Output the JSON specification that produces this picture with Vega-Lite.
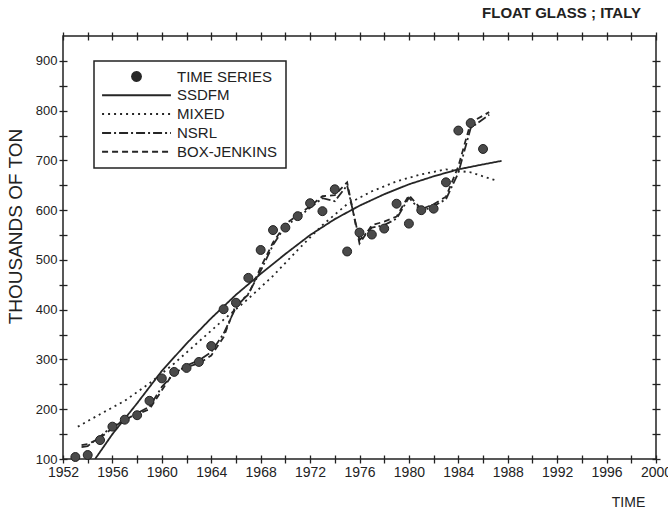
{
  "$schema": "https://vega.github.io/schema/vega-lite/v6.json",
  "width": 593,
  "height": 423,
  "autosize": "none",
  "padding": {"left": 63, "top": 36, "right": 12, "bottom": 51},
  "background": "white",
  "title": {
    "text": "FLOAT GLASS ; ITALY",
    "anchor": "end",
    "frame": "group",
    "dx": -15,
    "offset": 10,
    "font": "Liberation Sans",
    "fontSize": 15,
    "fontWeight": "bold",
    "color": "#222"
  },
  "config": {
    "view": {"stroke": "#222", "strokeWidth": 1.5},
    "axis": {
      "domain": false,
      "grid": false,
      "offset": -4,
      "tickSize": 8,
      "tickColor": "#222",
      "tickWidth": 1.3,
      "labelFont": "Liberation Sans",
      "labelColor": "#222",
      "labelFlush": false,
      "labelOverlap": false,
      "titleFont": "Liberation Sans",
      "titleColor": "#222",
      "titleFontWeight": "normal"
    },
    "legend": {
      "orient": "none",
      "legendX": 31,
      "legendY": 25,
      "strokeColor": "#222",
      "strokeWidth": 1.5,
      "padding": 8,
      "rowPadding": 2.8,
      "symbolSize": 80,
      "symbolOffset": 27,
      "symbolStrokeWidth": 2,
      "labelOffset": 33,
      "labelFont": "Liberation Sans",
      "labelFontSize": 15,
      "labelColor": "#222"
    }
  },
  "datasets": {
    "observed": [
      {"year": 1953, "value": 104, "model": "TIME SERIES"},
      {"year": 1954, "value": 108, "model": "TIME SERIES"},
      {"year": 1955, "value": 138, "model": "TIME SERIES"},
      {"year": 1956, "value": 165, "model": "TIME SERIES"},
      {"year": 1957, "value": 179, "model": "TIME SERIES"},
      {"year": 1958, "value": 188, "model": "TIME SERIES"},
      {"year": 1959, "value": 217, "model": "TIME SERIES"},
      {"year": 1960, "value": 262, "model": "TIME SERIES"},
      {"year": 1961, "value": 275, "model": "TIME SERIES"},
      {"year": 1962, "value": 283, "model": "TIME SERIES"},
      {"year": 1963, "value": 295, "model": "TIME SERIES"},
      {"year": 1964, "value": 327, "model": "TIME SERIES"},
      {"year": 1965, "value": 401, "model": "TIME SERIES"},
      {"year": 1966, "value": 414, "model": "TIME SERIES"},
      {"year": 1967, "value": 464, "model": "TIME SERIES"},
      {"year": 1968, "value": 520, "model": "TIME SERIES"},
      {"year": 1969, "value": 560, "model": "TIME SERIES"},
      {"year": 1970, "value": 565, "model": "TIME SERIES"},
      {"year": 1971, "value": 588, "model": "TIME SERIES"},
      {"year": 1972, "value": 614, "model": "TIME SERIES"},
      {"year": 1973, "value": 598, "model": "TIME SERIES"},
      {"year": 1974, "value": 642, "model": "TIME SERIES"},
      {"year": 1975, "value": 517, "model": "TIME SERIES"},
      {"year": 1976, "value": 555, "model": "TIME SERIES"},
      {"year": 1977, "value": 551, "model": "TIME SERIES"},
      {"year": 1978, "value": 563, "model": "TIME SERIES"},
      {"year": 1979, "value": 613, "model": "TIME SERIES"},
      {"year": 1980, "value": 573, "model": "TIME SERIES"},
      {"year": 1981, "value": 600, "model": "TIME SERIES"},
      {"year": 1982, "value": 603, "model": "TIME SERIES"},
      {"year": 1983, "value": 656, "model": "TIME SERIES"},
      {"year": 1984, "value": 760, "model": "TIME SERIES"},
      {"year": 1985, "value": 775, "model": "TIME SERIES"},
      {"year": 1986, "value": 723, "model": "TIME SERIES"}
    ],
    "fitted": [
      {"year": 1954.6, "value": 100, "model": "SSDFM"},
      {"year": 1956, "value": 150, "model": "SSDFM"},
      {"year": 1958, "value": 212, "model": "SSDFM"},
      {"year": 1960, "value": 277, "model": "SSDFM"},
      {"year": 1962, "value": 332, "model": "SSDFM"},
      {"year": 1964, "value": 383, "model": "SSDFM"},
      {"year": 1966, "value": 430, "model": "SSDFM"},
      {"year": 1968, "value": 472, "model": "SSDFM"},
      {"year": 1970, "value": 512, "model": "SSDFM"},
      {"year": 1972, "value": 550, "model": "SSDFM"},
      {"year": 1974, "value": 582, "model": "SSDFM"},
      {"year": 1976, "value": 609, "model": "SSDFM"},
      {"year": 1978, "value": 632, "model": "SSDFM"},
      {"year": 1980, "value": 652, "model": "SSDFM"},
      {"year": 1982, "value": 668, "model": "SSDFM"},
      {"year": 1984, "value": 682, "model": "SSDFM"},
      {"year": 1986, "value": 692, "model": "SSDFM"},
      {"year": 1987.5, "value": 699, "model": "SSDFM"},

      {"year": 1953.2, "value": 165, "model": "MIXED"},
      {"year": 1955, "value": 190, "model": "MIXED"},
      {"year": 1957, "value": 217, "model": "MIXED"},
      {"year": 1959, "value": 252, "model": "MIXED"},
      {"year": 1961, "value": 292, "model": "MIXED"},
      {"year": 1963, "value": 336, "model": "MIXED"},
      {"year": 1965, "value": 380, "model": "MIXED"},
      {"year": 1967, "value": 422, "model": "MIXED"},
      {"year": 1969, "value": 468, "model": "MIXED"},
      {"year": 1971, "value": 520, "model": "MIXED"},
      {"year": 1973, "value": 570, "model": "MIXED"},
      {"year": 1975, "value": 612, "model": "MIXED"},
      {"year": 1977, "value": 638, "model": "MIXED"},
      {"year": 1979, "value": 658, "model": "MIXED"},
      {"year": 1981, "value": 672, "model": "MIXED"},
      {"year": 1983, "value": 682, "model": "MIXED"},
      {"year": 1985, "value": 676, "model": "MIXED"},
      {"year": 1987, "value": 660, "model": "MIXED"},

      {"year": 1953.5, "value": 124, "model": "NSRL"},
      {"year": 1954, "value": 126, "model": "NSRL"},
      {"year": 1955, "value": 145, "model": "NSRL"},
      {"year": 1956, "value": 166, "model": "NSRL"},
      {"year": 1957, "value": 178, "model": "NSRL"},
      {"year": 1958, "value": 192, "model": "NSRL"},
      {"year": 1959, "value": 205, "model": "NSRL"},
      {"year": 1960, "value": 245, "model": "NSRL"},
      {"year": 1961, "value": 272, "model": "NSRL"},
      {"year": 1962, "value": 288, "model": "NSRL"},
      {"year": 1963, "value": 298, "model": "NSRL"},
      {"year": 1964, "value": 315, "model": "NSRL"},
      {"year": 1965, "value": 352, "model": "NSRL"},
      {"year": 1966, "value": 405, "model": "NSRL"},
      {"year": 1967, "value": 432, "model": "NSRL"},
      {"year": 1968, "value": 478, "model": "NSRL"},
      {"year": 1969, "value": 530, "model": "NSRL"},
      {"year": 1970, "value": 568, "model": "NSRL"},
      {"year": 1971, "value": 585, "model": "NSRL"},
      {"year": 1972, "value": 605, "model": "NSRL"},
      {"year": 1973, "value": 624, "model": "NSRL"},
      {"year": 1974, "value": 618, "model": "NSRL"},
      {"year": 1975, "value": 650, "model": "NSRL"},
      {"year": 1976, "value": 540, "model": "NSRL"},
      {"year": 1977, "value": 565, "model": "NSRL"},
      {"year": 1978, "value": 570, "model": "NSRL"},
      {"year": 1979, "value": 583, "model": "NSRL"},
      {"year": 1980, "value": 625, "model": "NSRL"},
      {"year": 1981, "value": 598, "model": "NSRL"},
      {"year": 1982, "value": 608, "model": "NSRL"},
      {"year": 1983, "value": 622, "model": "NSRL"},
      {"year": 1984, "value": 675, "model": "NSRL"},
      {"year": 1985, "value": 765, "model": "NSRL"},
      {"year": 1986.5, "value": 792, "model": "NSRL"},

      {"year": 1953.5, "value": 128, "model": "BOX-JENKINS"},
      {"year": 1954, "value": 130, "model": "BOX-JENKINS"},
      {"year": 1955, "value": 142, "model": "BOX-JENKINS"},
      {"year": 1956, "value": 162, "model": "BOX-JENKINS"},
      {"year": 1957, "value": 180, "model": "BOX-JENKINS"},
      {"year": 1958, "value": 190, "model": "BOX-JENKINS"},
      {"year": 1959, "value": 200, "model": "BOX-JENKINS"},
      {"year": 1960, "value": 238, "model": "BOX-JENKINS"},
      {"year": 1961, "value": 275, "model": "BOX-JENKINS"},
      {"year": 1962, "value": 285, "model": "BOX-JENKINS"},
      {"year": 1963, "value": 292, "model": "BOX-JENKINS"},
      {"year": 1964, "value": 308, "model": "BOX-JENKINS"},
      {"year": 1965, "value": 345, "model": "BOX-JENKINS"},
      {"year": 1966, "value": 410, "model": "BOX-JENKINS"},
      {"year": 1967, "value": 430, "model": "BOX-JENKINS"},
      {"year": 1968, "value": 485, "model": "BOX-JENKINS"},
      {"year": 1969, "value": 535, "model": "BOX-JENKINS"},
      {"year": 1970, "value": 572, "model": "BOX-JENKINS"},
      {"year": 1971, "value": 590, "model": "BOX-JENKINS"},
      {"year": 1972, "value": 608, "model": "BOX-JENKINS"},
      {"year": 1973, "value": 628, "model": "BOX-JENKINS"},
      {"year": 1974, "value": 630, "model": "BOX-JENKINS"},
      {"year": 1975, "value": 656, "model": "BOX-JENKINS"},
      {"year": 1976, "value": 533, "model": "BOX-JENKINS"},
      {"year": 1977, "value": 570, "model": "BOX-JENKINS"},
      {"year": 1978, "value": 577, "model": "BOX-JENKINS"},
      {"year": 1979, "value": 587, "model": "BOX-JENKINS"},
      {"year": 1980, "value": 630, "model": "BOX-JENKINS"},
      {"year": 1981, "value": 602, "model": "BOX-JENKINS"},
      {"year": 1982, "value": 612, "model": "BOX-JENKINS"},
      {"year": 1983, "value": 627, "model": "BOX-JENKINS"},
      {"year": 1984, "value": 688, "model": "BOX-JENKINS"},
      {"year": 1985, "value": 776, "model": "BOX-JENKINS"},
      {"year": 1986.5, "value": 797, "model": "BOX-JENKINS"}
    ]
  },
  "layer": [
    {
      "data": {"name": "fitted"},
      "mark": {"type": "line", "stroke": "#262626", "strokeWidth": 1.8, "clip": true},
      "encoding": {
        "x": {
          "field": "year",
          "type": "quantitative",
          "scale": {"domain": [1952, 2000], "nice": false, "zero": false},
          "axis": {
            "orient": "bottom",
            "values": [1952, 1954, 1956, 1958, 1960, 1962, 1964, 1966, 1968, 1970, 1972, 1974, 1976, 1978, 1980, 1982, 1984, 1986, 1988, 1990, 1992, 1994, 1996, 1998, 2000],
            "format": "d",
            "labelExpr": "datum.value % 4 === 0 ? datum.label : ''",
            "labelFontSize": 14,
            "labelPadding": 2,
            "title": "TIME",
            "titleFontSize": 14,
            "titleX": 565,
            "titleY": 40,
            "titleAlign": "center"
          }
        },
        "y": {
          "field": "value",
          "type": "quantitative",
          "scale": {"domain": [100, 950], "nice": false, "zero": false},
          "axis": {
            "orient": "left",
            "values": [100, 150, 200, 250, 300, 350, 400, 450, 500, 550, 600, 650, 700, 750, 800, 850, 900],
            "labelExpr": "datum.value % 100 === 0 ? datum.label : ''",
            "labelFontSize": 13,
            "labelPadding": 2,
            "title": "THOUSANDS OF TON",
            "titleFontSize": 19,
            "titleX": -42,
            "titleY": 190
          }
        },
        "strokeDash": {
          "field": "model",
          "type": "nominal",
          "scale": {
            "domain": ["TIME SERIES", "SSDFM", "MIXED", "NSRL", "BOX-JENKINS"],
            "range": [[1, 0], [1, 0], [2, 4], [9, 3, 2, 3], [6, 4]]
          },
          "legend": {"title": null}
        }
      }
    },
    {
      "data": {"name": "observed"},
      "mark": {"type": "point", "filled": true, "shape": "circle", "size": 80, "fill": "#4a4a4a", "stroke": "#222", "strokeWidth": 1, "opacity": 1},
      "encoding": {
        "x": {
          "field": "year",
          "type": "quantitative",
          "axis": {
            "orient": "top",
            "values": [1952, 1954, 1956, 1958, 1960, 1962, 1964, 1966, 1968, 1970, 1972, 1974, 1976, 1978, 1980, 1982, 1984, 1986, 1988, 1990, 1992, 1994, 1996, 1998, 2000],
            "labels": false,
            "title": null
          }
        },
        "y": {
          "field": "value",
          "type": "quantitative",
          "axis": {
            "orient": "right",
            "values": [100, 150, 200, 250, 300, 350, 400, 450, 500, 550, 600, 650, 700, 750, 800, 850, 900],
            "labels": false,
            "title": null
          }
        }
      }
    },
    {
      "data": {"name": "observed"},
      "transform": [{"filter": "false"}],
      "mark": {"type": "point", "filled": true, "size": 80, "fill": "#4a4a4a", "stroke": "#222", "strokeWidth": 1},
      "encoding": {
        "x": {"field": "year", "type": "quantitative", "axis": null},
        "y": {"field": "value", "type": "quantitative", "axis": null},
        "shape": {
          "field": "model",
          "type": "nominal",
          "scale": {
            "domain": ["TIME SERIES", "SSDFM", "MIXED", "NSRL", "BOX-JENKINS"],
            "range": [
              "M1,0L0.866,0.5L0.5,0.866L0,1L-0.5,0.866L-0.866,0.5L-1,0L-0.866,-0.5L-0.5,-0.866L0,-1L0.5,-0.866L0.866,-0.5ZM0.6,0L0.52,0.3L0.3,0.52L0,0.6L-0.3,0.52L-0.52,0.3L-0.6,0L-0.52,-0.3L-0.3,-0.52L0,-0.6L0.3,-0.52L0.52,-0.3ZM0.2,0L0,0.2L-0.2,0L0,-0.2Z",
              "M-7.7,0H7.7",
              "M-7.7,0H7.7",
              "M-7.7,0H7.7",
              "M-7.7,0H7.7"
            ]
          },
          "legend": {"title": null}
        }
      }
    }
  ],
  "resolve": {"axis": {"x": "independent", "y": "independent"}}
}
